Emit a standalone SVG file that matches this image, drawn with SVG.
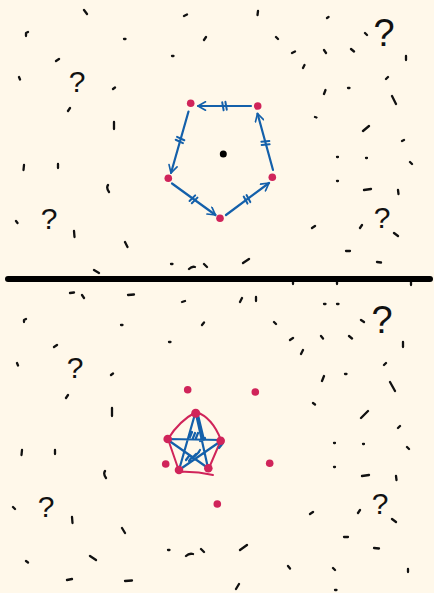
<svg xmlns="http://www.w3.org/2000/svg" width="434" height="593" viewBox="0 0 434 593">
<style>
.bg{fill:#fff8ea}
.dash{fill:none;stroke:#111;stroke-width:2.3;stroke-linecap:round;stroke-linejoin:round}
.q{font-family:"Liberation Sans",Arial,sans-serif;fill:#111;text-anchor:middle}
.node{fill:#d0245a}
.edge{fill:none;stroke:#1460aa;stroke-width:2.2;stroke-linecap:round;stroke-linejoin:round}
.red{fill:none;stroke:#d0245a;stroke-width:2;stroke-linecap:round;stroke-linejoin:round}
</style>
<defs>
<marker id="ah" viewBox="0 0 12 12" refX="11" refY="6" markerWidth="10" markerHeight="10" markerUnits="userSpaceOnUse" orient="auto">
<path d="M2,1 L11,6 L2,11" fill="none" stroke="#1460aa" stroke-width="2" stroke-linecap="round" stroke-linejoin="round"/>
</marker>
<path id="tick" d="M-1.6,-4 L-1.6,4 M1.6,-4 L1.6,4" fill="none" stroke="#1460aa" stroke-width="2" stroke-linecap="round"/>
</defs>
<rect class="bg" x="0" y="0" width="434" height="593"/>

<g id="scribbles-top">
<path class="dash" d="M84,10 l3,4 M26,36 l0,-3 l2,-1 M124,39 l1.5,0 M184,16 l3,-1.5 M258,11 l-0.5,4 M327,18 l1.5,-1 M204,40 l2,-3 M276,37 l2,2 M172,56 l1.5,0 M292,53 l3,-1.5 M324,50 l2,3 M351,49 l3,2.5 M365,33 l2,2 M406,56 l0,4 M56,61 l3,-2 M19,77 l1,2.5 M113,89 l2,-1.5 M303,68 l1.5,-3 M386,79 l2,-2 M324,94 l1.5,-4 M348,88 l1.5,0 M392,96 l4,8 M68,111 l2,-3 M114,122 l0,7 M315,117 l1.5,0.5 M363,131 l6,-5 M402,141 l2,-1 M24,165 l-0.5,5 M58,164 l0,4 M108,185 q-2,3 1,7 M16,221 l1.5,2 M74,231 l0.5,6 M125,242 l2.5,5 M94,270 l5,3 M171,264 l1.5,0 M189,269 q3,-3 6,-2 M204,264 l3,3 M243,263 l6,-4 M337,157 l1,0 M366,158 l1,0 M410,162 l2,2 M337,181 l1,0 M364,190 l7,-1 M398,190 l0.5,4 M312,228 l3,-2 M360,228 l2,-3 M394,233 l4,3 M346,251 l4,0 M377,262 l4,0.5 M293,282 l0,2 M337,282 l0,2 M411,282 l0,3"/>
<text class="q" x="384" y="46" font-size="38">?</text>
<text class="q" x="77" y="92" font-size="30">?</text>
<text class="q" x="49" y="229" font-size="30">?</text>
<text class="q" x="382" y="228" font-size="30">?</text>
</g>

<g id="divider">
<path d="M8,279 L430,279" fill="none" stroke="#000" stroke-width="6" stroke-linecap="round"/>
</g>

<g id="scribbles-bottom">
<path class="dash" d="M70,293 l4,-0.5 M82,295 l2,3 M128,295 l6,-0.5 M182,302 l3,-1 M240,302 l2,-4 M256,297 l0,4 M24,322 l0,-2 l2,-1 M121,325 l1.5,0 M202,325 l2,-2.5 M169,342 l1.5,0 M54,347 l3,-2 M17,363 l1,2.5 M111,375 l2,-1.5 M66,398 l2,-3 M112,408 l0,8 M274,322 l2,2 M290,340 l3,-2 M321,336 l2,2.5 M349,336 l3,2.5 M324,304 l1.5,0 M337,304 l1.5,0 M361,320 l3,2 M403,342 l0,5 M301,354 l2,-4 M384,365 l2,-2 M322,381 l2,-5 M345,374 l1.5,0 M390,382 l5,9 M313,403 l2,1.5 M361,418 l7,-7 M398,428 l2,-2 M22,450 l-0.5,5 M55,450 l0,4 M105,471 q-2,3 1,7 M13,507 l2,2 M72,517 l0.5,6 M122,528 l3,5 M26,561 l2,1.5 M90,556 l6,4 M67,580 l5,-1 M125,581 l7,-0.5 M168,550 l1.5,0 M186,556 q3,-3 7,-2 M201,549 l3,3 M240,550 l7,-5 M236,589 l3,-5 M288,566 l2,2.5 M334,443 l1,0 M363,444 l1,0 M407,447 l2,2 M334,467 l1,0 M362,476 l7,-1 M396,476 l0.5,4 M310,514 l3,-2 M358,513 l2,-3 M392,519 l4,3 M344,537 l4,0 M374,548 l5,0.5 M333,568 l2,2 M335,590 l1.5,0 M408,569 l0,3"/>
<text class="q" x="75" y="378" font-size="30">?</text>
<text class="q" x="382" y="333" font-size="38">?</text>
<text class="q" x="46" y="517" font-size="30">?</text>
<text class="q" x="380" y="514" font-size="30">?</text>
</g>

<g id="connectors">
<path class="edge" d="M251,106 L198,106" marker-end="url(#ah)"/>
<path class="edge" d="M188.5,111.5 L171,173" marker-end="url(#ah)"/>
<path class="edge" d="M172,183.5 L215.5,215" marker-end="url(#ah)"/>
<path class="edge" d="M226,215 L269,183" marker-end="url(#ah)"/>
<path class="edge" d="M273,170 L257.5,113.5" marker-end="url(#ah)"/>
<use href="#tick" transform="translate(224.5,106) rotate(170)"/>
<use href="#tick" transform="translate(180,140) rotate(115)"/>
<use href="#tick" transform="translate(193.5,199.3) rotate(45)"/>
<use href="#tick" transform="translate(247,199.3) rotate(-28)"/>
<use href="#tick" transform="translate(265.5,143) rotate(-95)"/>
</g>

<g id="node-a"><circle class="node" cx="190.7" cy="103.3" r="3.8"/></g>
<g id="node-b"><circle class="node" cx="257.7" cy="106" r="3.8"/></g>
<g id="node-c"><circle class="node" cx="272.3" cy="177.3" r="3.8"/></g>
<g id="node-d"><circle class="node" cx="220" cy="218.3" r="3.8"/></g>
<g id="node-e"><circle class="node" cx="168.3" cy="178.3" r="3.8"/></g>
<g id="center"><circle cx="223.3" cy="154" r="3.5" fill="#000"/></g>

<g id="bottom-dots">
<circle class="node" cx="187.7" cy="389.7" r="3.8"/>
<circle class="node" cx="255.3" cy="392" r="3.8"/>
<circle class="node" cx="269.7" cy="463.3" r="3.8"/>
<circle class="node" cx="217.3" cy="504" r="3.8"/>
<circle class="node" cx="165.7" cy="464" r="3.8"/>
</g>

<g id="small-pentagon">
<path class="red" d="M196,412 Q212,417 221,440 L209,468 M178,472 Q195,471 213,475 M168,439 L179,471 M168,439 Q179,421 196,412"/>
<path class="edge" stroke-width="2" d="M195,414 L179,470 M196,414 L208,468 M198,415 L204,440 M168,439 L221,440 M168,440 L208,468 M221,441 L179,470 M219,448 L223,443 M190,437 l2,-5 M193,438 l2,-5 M196,438 l2,-5 M200,441 l5,-3 M186,460 l3,-4 M189,461 l3,-4 M192,458 l4,-4 M195,456 l4,-4 M198,453 l2,-3"/>
<circle class="node" cx="195.7" cy="413.3" r="4.5"/>
<circle class="node" cx="167.7" cy="439" r="4.3"/>
<circle class="node" cx="220.7" cy="440.7" r="4.3"/>
<circle class="node" cx="208.3" cy="468.3" r="4.3"/>
<circle class="node" cx="179" cy="470" r="4.3"/>
</g>
</svg>
